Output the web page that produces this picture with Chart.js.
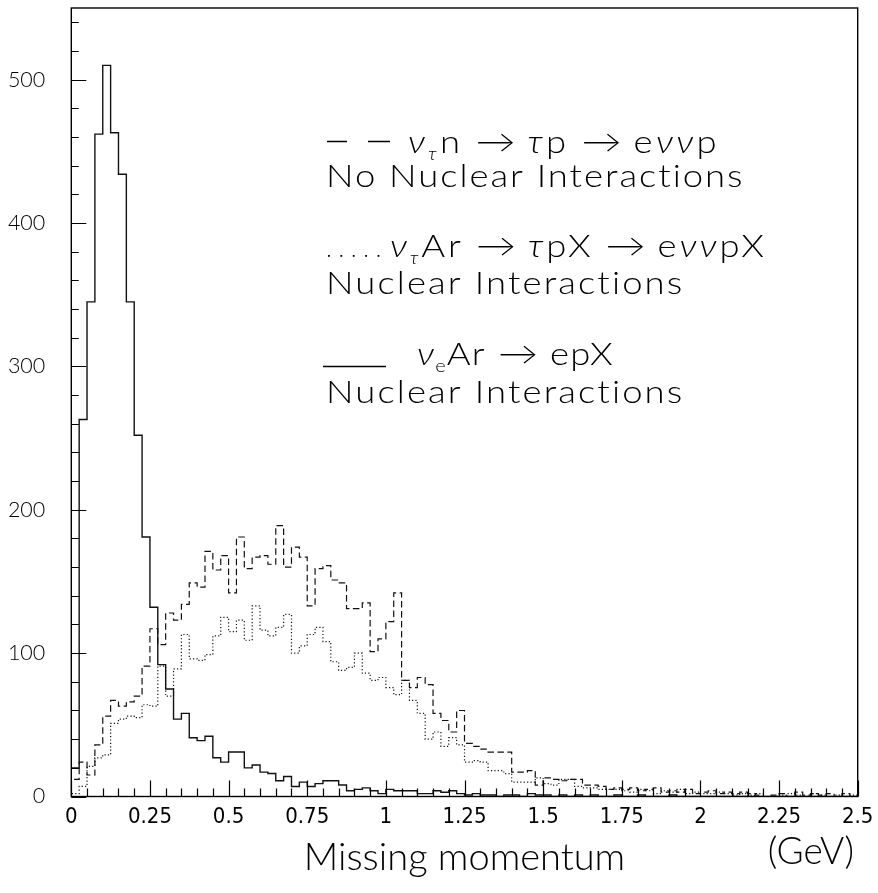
<!DOCTYPE html>
<html>
<head>
<meta charset="utf-8">
<script src="https://cdn.jsdelivr.net/npm/chart.js@4.4.0/dist/chart.umd.min.js"></script>
<style>
  html, body { margin: 0; padding: 0; background: #fff; }
  #wrap { position: relative; width: 878px; height: 893px; }
</style>
</head>
<body>
<div id="wrap"><canvas id="chart" width="878" height="893"></canvas></div>
<script>
// Histogram binning: 100 bins of 0.025 GeV from 0 to 2.5 GeV
const BIN_WIDTH = 0.025;

// nu_tau n -> tau p -> e nu nu p, no nuclear interactions (dashed)
const nuTauFree = [
  12, 24, 15, 36, 56, 67, 63, 66, 70, 91,
  117, 106, 128, 123, 134, 149, 146, 171, 158, 168,
  142, 181, 159, 167, 168, 162, 189, 160, 174, 167,
  133, 159, 161, 151, 149, 131, 131, 135, 101, 110,
  122, 142, 81, 76, 83, 78, 58, 53, 45, 60,
  37, 35, 33, 31, 31, 31, 17, 17, 18, 8,
  13, 12, 11, 12, 12, 8, 8, 7, 5, 6,
  5, 6, 4, 5, 6, 3, 4, 3, 5, 2,
  3, 4, 2, 3, 2, 3, 2, 1, 0, 1,
  2, 0, 3, 1, 2, 1, 2, 0, 2, 0
];

// nu_tau Ar -> tau p X -> e nu nu p X, with nuclear interactions (dotted)
const nuTauArgon = [
  2, 7, 21, 27, 29, 51, 54, 56, 55, 64,
  63, 91, 70, 89, 113, 96, 95, 99, 112, 125,
  115, 123, 109, 133, 116, 112, 118, 127, 100, 105,
  113, 118, 108, 94, 88, 90, 100, 86, 81, 83,
  76, 71, 81, 67, 58, 40, 45, 35, 41, 36,
  24, 25, 24, 18, 18, 16, 10, 10, 10, 13,
  9, 8, 12, 12, 7, 6, 6, 5, 5, 5,
  4, 3, 5, 4, 2, 4, 3, 5, 2, 3,
  2, 2, 3, 2, 1, 2, 1, 2, 0, 0,
  1, 2, 1, 0, 2, 1, 0, 1, 0, 1
];

// nu_e Ar -> e p X, with nuclear interactions (solid)
const nuEArgon = [
  20, 263, 345, 462, 510, 463, 434, 345, 252, 181,
  132, 92, 75, 54, 58, 41, 39, 42, 27, 24,
  31, 31, 20, 22, 17, 16, 11, 14, 7, 10,
  7, 9, 11, 11, 8, 4, 5, 6, 4, 2,
  5, 4, 4, 4, 2, 2, 4, 3, 4, 2,
  1, 2, 1, 1, 0, 1, 1, 0, 2, 1,
  1, 0, 1, 0, 1, 0, 1, 0, 0, 1,
  0, 0, 1, 0, 0, 0, 1, 0, 0, 0,
  0, 0, 0, 0, 0, 0, 0, 0, 0, 0,
  0, 0, 0, 0, 0, 0, 0, 0, 0, 0
];

const xTickValues = [0, 0.25, 0.5, 0.75, 1, 1.25, 1.5, 1.75, 2, 2.25, 2.5];
const xTickLabels = ['0', '0.25', '0.5', '0.75', '1', '1.25', '1.5', '1.75', '2', '2.25', '2.5'];
const yTickValues = [0, 100, 200, 300, 400, 500];
const yTickLabels = ['0', '100', '200', '300', '400', '500'];
const X_MAX = 2.5;
const Y_MAX = 550;
const X_MINOR_STEP = 0.05, X_MAJOR_STEP = 0.25;
const Y_MINOR_STEP = 20, Y_MAJOR_STEP = 100;

const xTitle = 'Missing momentum';
const xUnit = '(GeV)';

const NARROW = '"Liberation Sans Narrow", "DejaVu Sans Condensed", "Liberation Sans", sans-serif';
const LEGEND_FONT = 'Lato, "DejaVu Sans", sans-serif';

// Step outline of a histogram: each point holds its value up to the next bin edge
function histPoints(values) {
  const pts = [{ x: 0, y: 0 }];
  values.forEach((v, i) => pts.push({ x: i * BIN_WIDTH, y: v }));
  const end = values.length * BIN_WIDTH;
  pts.push({ x: end, y: values[values.length - 1] });
  pts.push({ x: end, y: 0 });
  return pts;
}

// Frame around the plot and inward-pointing tick marks
const framePlugin = {
  id: 'frame',
  afterDatasetsDraw(chart) {
    const { ctx, chartArea: a, scales: { x, y } } = chart;
    ctx.save();
    ctx.strokeStyle = '#000';
    ctx.lineWidth = 1.4;
    ctx.strokeRect(a.left, a.top, a.right - a.left, a.bottom - a.top);
    ctx.lineWidth = 1.2;
    ctx.beginPath();
    for (let k = 0; k * Y_MINOR_STEP <= Y_MAX; k++) {
      const v = k * Y_MINOR_STEP;
      const py = Math.round(y.getPixelForValue(v)) + 0.5;
      const len = (v % Y_MAJOR_STEP === 0) ? 15 : 7.5;
      ctx.moveTo(a.left, py);
      ctx.lineTo(a.left + len, py);
    }
    const nX = Math.round(X_MAX / X_MINOR_STEP);
    for (let k = 0; k <= nX; k++) {
      const v = k * X_MINOR_STEP;
      const px = Math.round(x.getPixelForValue(v)) + 0.5;
      const major = Math.abs(v / X_MAJOR_STEP - Math.round(v / X_MAJOR_STEP)) < 1e-6;
      const len = major ? 16 : 8;
      ctx.moveTo(px, a.bottom);
      ctx.lineTo(px, a.bottom - len);
    }
    ctx.stroke();
    ctx.restore();
  }
};

// Rich-text line spread between two x positions: glyphs are widened a little,
// the remaining room goes into letter spacing; arrows get a fixed width.
function runFont(r, size) {
  return (r.italic ? 'italic ' : '') + '300 ' + (size * (r.scale || 1)) + 'px ' + LEGEND_FONT;
}
function drawRich(ctx, runs, x0, x1, baseline, size) {
  ctx.letterSpacing = '0px';
  let natural = 0, fixed = 0, chars = 0;
  runs.forEach(r => {
    if (r.gap) { fixed += r.gap; return; }
    if (r.w) { fixed += r.w; return; }
    ctx.font = runFont(r, size);
    natural += ctx.measureText(r.t).width;
    chars += [...r.t].length;
  });
  const target = x1 - x0 - fixed;
  const stretch = Math.max(1, Math.min(target / natural, 1.14));
  const spacing = Math.max(0, (target - natural * stretch) / Math.max(1, chars));
  let x = x0;
  runs.forEach(r => {
    if (r.gap) { x += r.gap; return; }
    ctx.save();
    ctx.font = runFont(r, size);
    ctx.letterSpacing = '0px';
    if (r.w) {
      const nat = ctx.measureText(r.t).width;
      ctx.translate(x, baseline + (r.dy || 0));
      ctx.scale(r.w / nat, 1);
      ctx.fillText(r.t, 0, 0);
      ctx.restore();
      x += r.w;
      return;
    }
    ctx.letterSpacing = (spacing / stretch).toFixed(2) + 'px';
    const w = ctx.measureText(r.t).width;
    ctx.translate(x, baseline + (r.dy || 0));
    ctx.scale(stretch, 1);
    ctx.fillText(r.t, 0, 0);
    ctx.restore();
    x += w * stretch;
  });
}

const legendPlugin = {
  id: 'processLegend',
  afterDraw(chart) {
    const ctx = chart.ctx;
    const S = 32;
    const nu = { t: 'ν', italic: true };
    const tau = { t: 'τ', italic: true };
    const subTau = { t: 'τ', italic: true, scale: 0.55, dy: 7 };
    const subE = { t: 'e', scale: 0.55, dy: 7 };
    const g = { gap: 12 };
    const arrow = { t: '→', w: 40 };
    ctx.save();
    ctx.fillStyle = '#000';
    ctx.strokeStyle = '#000';
    ctx.textBaseline = 'alphabetic';
    ctx.textAlign = 'left';

    // dashed sample
    ctx.lineWidth = 1.3;
    ctx.beginPath();
    ctx.moveTo(327, 141.5); ctx.lineTo(347, 141.5);
    ctx.moveTo(368, 141.5); ctx.lineTo(390, 141.5);
    ctx.stroke();
    drawRich(ctx, [nu, subTau, { t: 'n' }, g, arrow, g, tau, { t: 'p' }, g, arrow, g, { t: 'e' }, nu, nu, { t: 'p' }], 408, 720, 153, S);
    drawRich(ctx, [{ t: 'No Nuclear Interactions' }], 326, 745, 187, S);

    // dotted sample
    for (let k = 0; k < 5; k++) ctx.fillRect(328 + k * 12.4, 255, 1.8, 1.8);
    drawRich(ctx, [nu, subTau, { t: 'Ar' }, g, arrow, g, tau, { t: 'pX' }, g, arrow, g, { t: 'e' }, nu, nu, { t: 'pX' }], 390, 767, 257, S);
    drawRich(ctx, [{ t: 'Nuclear Interactions' }], 326, 685, 294, S);

    // solid sample
    ctx.lineWidth = 1.3;
    ctx.beginPath();
    ctx.moveTo(323, 366.5); ctx.lineTo(386, 366.5);
    ctx.stroke();
    drawRich(ctx, [nu, subE, { t: 'Ar' }, g, arrow, g, { t: 'epX' }], 417, 614, 365, S);
    drawRich(ctx, [{ t: 'Nuclear Interactions' }], 326, 685, 403, S);

    // unit label under the right end of the axis
    ctx.font = '300 37px ' + LEGEND_FONT;
    ctx.textAlign = 'right';
    ctx.fillText(xUnit, 854, 864);
    ctx.restore();
  }
};

const lineStyle = { stepped: 'before', pointRadius: 0, fill: false, tension: 0, borderColor: '#111' };

new Chart(document.getElementById('chart'), {
  type: 'line',
  data: {
    datasets: [
      Object.assign({ label: 'ντ n → τ p → eννp (no nuclear interactions)', data: histPoints(nuTauFree), borderWidth: 1.2, borderDash: [6.5, 3.5] }, lineStyle),
      Object.assign({ label: 'ντ Ar → τ pX → eννpX (nuclear interactions)', data: histPoints(nuTauArgon), borderWidth: 1.2, borderDash: [1.2, 2.2] }, lineStyle),
      Object.assign({ label: 'νe Ar → epX (nuclear interactions)', data: histPoints(nuEArgon), borderWidth: 1.4 }, lineStyle)
    ]
  },
  options: {
    responsive: false,
    animation: false,
    layout: { padding: { top: 8, right: 20.3, left: 0, bottom: 0 } },
    plugins: { legend: { display: false }, tooltip: { enabled: false } },
    scales: {
      x: {
        type: 'linear', min: 0, max: X_MAX,
        grid: { display: false, drawTicks: false },
        border: { display: false },
        afterBuildTicks: s => { s.ticks = xTickValues.map(v => ({ value: v })); },
        afterFit: s => { s.height = 96.5; s.paddingLeft = 0; s.paddingRight = 0; },
        ticks: {
          autoSkip: false, maxRotation: 0, padding: 8, color: '#000',
          font: { family: NARROW, size: 22 },
          callback: (v, i) => xTickLabels[i]
        },
        title: {
          display: true, text: xTitle, color: '#000',
          font: { family: LEGEND_FONT, size: 38, weight: '300', lineHeight: 1.2 },
          padding: { top: 0, bottom: 12 }
        }
      },
      y: {
        type: 'linear', min: 0, max: Y_MAX,
        grid: { display: false, drawTicks: false },
        border: { display: false },
        afterBuildTicks: s => { s.ticks = yTickValues.map(v => ({ value: v })); },
        afterFit: s => { s.width = 71.3; s.paddingTop = 0; s.paddingBottom = 0; },
        ticks: {
          padding: 26, color: '#000',
          font: { family: LEGEND_FONT, size: 21.5, weight: '300' },
          callback: (v, i) => yTickLabels[i]
        }
      }
    }
  },
  plugins: [framePlugin, legendPlugin]
});
</script>
</body>
</html>
